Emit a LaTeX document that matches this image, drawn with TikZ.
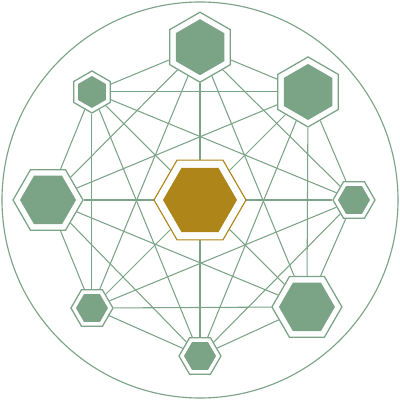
\documentclass[tikz,border=0pt]{standalone}
\usetikzlibrary{shapes.geometric, backgrounds}

\definecolor{sage}{HTML}{7BA386}
\definecolor{ochre}{HTML}{AE8519}

\begin{document}
\begin{tikzpicture}[
  hexbase/.style={regular polygon, regular polygon sides=6, inner sep=0pt},
  bighex/.style={hexbase, draw=sage, fill=white, line width=0.9pt, minimum size=1.75cm},
  smallhex/.style={hexbase, draw=sage, fill=white, line width=0.9pt, minimum size=1.05cm},
  bigcore/.style={hexbase, fill=sage, minimum size=1.4cm},
  smallcore/.style={hexbase, fill=sage, minimum size=0.8cm},
  hubhex/.style={hexbase, draw=ochre, fill=white, line width=0.8pt, minimum size=2.3cm},
  hubcore/.style={hexbase, fill=ochre, minimum size=1.85cm},
  pointy/.style={shape border rotate=30},
  link/.style={draw=sage, line width=0.75pt},
]
\useasboundingbox (-5,-5) rectangle (5,5);

% Outer ring
\draw[sage, line width=0.8pt] (0,0) circle (4.95);

% Hexagons on the ring
\node[bighex, pointy] (top) at (90:3.82) {};
\node[bigcore, pointy] (top-core) at (top) {};
\node[bighex, pointy] (topright) at (45:3.82) {};
\node[bigcore, pointy] (topright-core) at (topright) {};
\node[smallhex] (right) at (0:3.85) {};
\node[smallcore] (right-core) at (right) {};
\node[bighex] (botright) at (-45:3.78) {};
\node[bigcore] (botright-core) at (botright) {};
\node[smallhex] (bottom) at (-90:3.9) {};
\node[smallcore] (bottom-core) at (bottom) {};
\node[smallhex] (botleft) at (-135:3.82) {};
\node[smallcore] (botleft-core) at (botleft) {};
\node[bighex] (left) at (180:3.8) {};
\node[bigcore] (left-core) at (left) {};
\node[smallhex, pointy] (topleft) at (135:3.82) {};
\node[smallcore, pointy] (topleft-core) at (topleft) {};

% Hub
\node[hubhex] (hub) at (0,0) {};
\node[hubcore] (hub-core) at (hub) {};

% Connections
\begin{scope}[on background layer]
\draw[link] (top) -- (topright);
\draw[link] (top) -- (right);
\draw[link] (top) -- (botright);
\draw[link] (top) -- (bottom);
\draw[link] (top) -- (botleft);
\draw[link] (top) -- (left);
\draw[link] (top) -- (topleft);
\draw[link] (topright) -- (right);
\draw[link] (topright) -- (botright);
\draw[link] (topright) -- (bottom);
\draw[link] (topright) -- (botleft);
\draw[link] (topright) -- (left);
\draw[link] (topright) -- (topleft);
\draw[link] (right) -- (botright);
\draw[link] (right) -- (bottom);
\draw[link] (right) -- (botleft);
\draw[link] (right) -- (left);
\draw[link] (right) -- (topleft);
\draw[link] (botright) -- (bottom);
\draw[link] (botright) -- (botleft);
\draw[link] (botright) -- (left);
\draw[link] (botright) -- (topleft);
\draw[link] (bottom) -- (botleft);
\draw[link] (bottom) -- (left);
\draw[link] (bottom) -- (topleft);
\draw[link] (botleft) -- (left);
\draw[link] (botleft) -- (topleft);
\draw[link] (left) -- (topleft);
\end{scope}

\end{tikzpicture}
\end{document}
